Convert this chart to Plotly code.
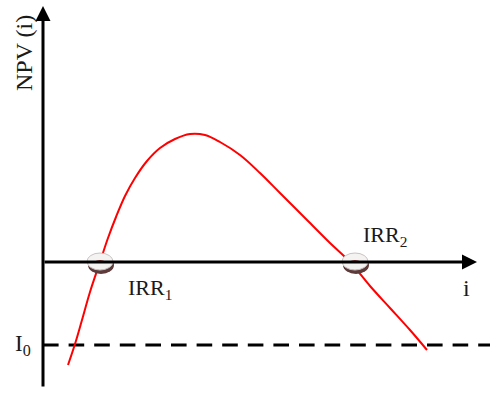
import plotly.graph_objects as go

# NPV profile of a project with two internal rates of return
rate = [2.5, 3.2, 3.9, 4.7, 5.7, 6.5, 7.3, 8.2, 9.2, 10.4, 11.7, 13.2, 14.7, 16.2,
        17.7, 19.7, 21.7, 23.7, 26.4, 28.7, 30.7, 32.7, 34.7, 36.7, 38.4]
npv = [-10.3, -8.2, -5.8, -3.0, 0.0, 2.4, 4.5, 6.6, 8.4, 10.1, 11.4, 12.3, 12.8, 12.7,
       12.0, 10.7, 8.9, 6.9, 4.2, 1.9, 0.0, -2.4, -4.6, -6.8, -8.8]
irr = [5.7, 31.2]
irr_labels = ["IRR<sub>1</sub>", "IRR<sub>2</sub>"]
initial_investment = -8.3

X_RANGE = [-4.3, 44.7]
Y_RANGE = [-13.2, 26.2]
SERIF = "Liberation Serif"
INK = "#1a1a1a"

fig = go.Figure()

fig.add_trace(go.Scatter(
    x=rate, y=npv, mode="lines",
    line=dict(color="#ff0000", width=2, shape="spline", smoothing=1.0),
    hoverinfo="skip", showlegend=False,
))

# dashed level of the initial investment
fig.add_shape(type="line", x0=0, x1=X_RANGE[1], y0=initial_investment, y1=initial_investment,
              line=dict(color="black", width=3, dash="15.6px,10px"), layer="below")

# axes with arrow heads
fig.add_annotation(x=0, y=25.6, ax=0, ay=-12.6, xref="x", yref="y", axref="x", ayref="y",
                   showarrow=True, arrowhead=2, arrowsize=1, arrowwidth=3, arrowcolor="black", text="")
fig.add_annotation(x=43.4, y=0, ax=0, ay=0, xref="x", yref="y", axref="x", ayref="y",
                   showarrow=True, arrowhead=2, arrowsize=1, arrowwidth=3, arrowcolor="black", text="")

# disc markers at the two IRRs
for r in irr:
    fig.add_shape(type="circle", xref="x", yref="y", xsizemode="pixel", ysizemode="pixel",
                  xanchor=r, yanchor=0, x0=-12, x1=14, y0=-12, y1=6,
                  fillcolor="#5e3b3b", line=dict(width=0))
    fig.add_shape(type="circle", xref="x", yref="y", xsizemode="pixel", ysizemode="pixel",
                  xanchor=r, yanchor=0, x0=-13, x1=13, y0=-8, y1=9,
                  fillcolor="#f5f2f2", line=dict(color="#c9c3c3", width=1))
    fig.add_shape(type="circle", xref="x", yref="y", xsizemode="pixel", ysizemode="pixel",
                  xanchor=r, yanchor=0, x0=-4, x1=4, y0=-1, y1=2,
                  fillcolor="#9c3b3b", line=dict(width=0))

label_font = dict(family=SERIF, size=22, color=INK)
fig.add_annotation(x=irr[0] + 5.0, y=-2.7, text=irr_labels[0], showarrow=False, font=label_font)
fig.add_annotation(x=irr[1] + 3.0, y=2.6, text=irr_labels[1], showarrow=False, font=label_font)
fig.add_annotation(x=42.3, y=-2.6, text="i", showarrow=False,
                   font=dict(family=SERIF, size=24, color=INK))
fig.add_annotation(x=-2.0, y=initial_investment, text="I<sub>0</sub>", showarrow=False,
                   font=dict(family=SERIF, size=23, color=INK))
fig.add_annotation(x=-1.9, y=20.9, text="NPV (i)", textangle=-90, showarrow=False,
                   font=dict(family=SERIF, size=24, color=INK))

fig.update_xaxes(range=X_RANGE, visible=False, fixedrange=True)
fig.update_yaxes(range=Y_RANGE, visible=False, fixedrange=True)
fig.update_layout(width=490, height=394, margin=dict(l=0, r=0, t=0, b=0),
                  plot_bgcolor="white", paper_bgcolor="white")

fig.write_html("out.html")
